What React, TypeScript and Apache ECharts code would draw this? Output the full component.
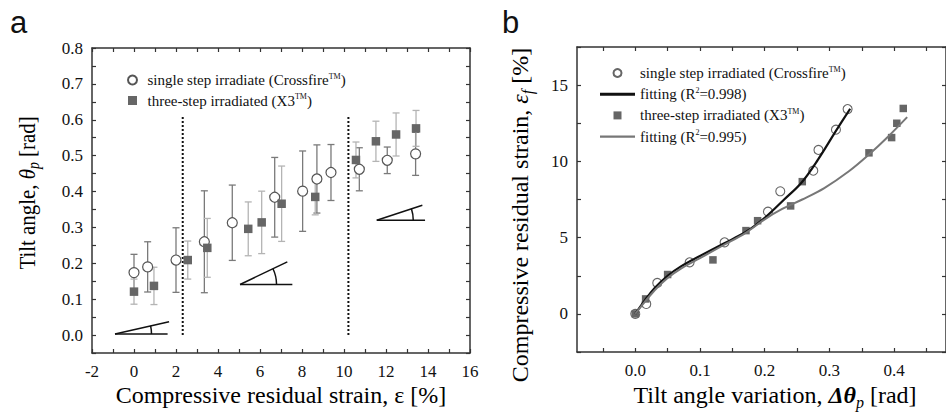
import React, { useEffect, useRef } from "react";
import * as echarts from "echarts";

// ---------- Panel a data: [x, y, error] ----------
const singleA = [
  [0.0, 0.174, 0.051], [0.65, 0.19, 0.07], [2.0, 0.209, 0.09], [3.35, 0.26, 0.142],
  [4.68, 0.313, 0.105], [6.7, 0.384, 0.111], [8.03, 0.401, 0.112], [8.71, 0.435, 0.095],
  [9.38, 0.453, 0.078], [10.73, 0.462, 0.06], [12.06, 0.487, 0.037], [13.41, 0.505, 0.06],
];
const threeA = [
  [0.0, 0.121, 0.035], [0.95, 0.137, 0.052], [2.56, 0.209, 0.053], [3.49, 0.243, 0.082],
  [5.44, 0.296, 0.075], [6.08, 0.314, 0.087], [7.03, 0.366, 0.105], [8.63, 0.385, 0.05],
  [10.57, 0.488, 0.05], [11.52, 0.54, 0.056], [12.48, 0.559, 0.06], [13.43, 0.576, 0.05],
];
// dotted dividers: [x, yFrom, yTo]
const dividers = [[2.32, 0, 0.613], [10.21, 0, 0.613]];
// angle glyphs: [vertexX, vertexY, horizontalEndX, slantEndX, slantEndY]
const wedges = [
  [-0.905, 0.003, 1.6, 1.67, 0.037],
  [5.05, 0.141, 7.54, 7.3, 0.204],
  [11.56, 0.32, 13.86, 13.73, 0.362],
];

// ---------- Panel b data ----------
const singleB = [
  [0, 0], [0.017, 0.65], [0.034, 2.03], [0.084, 3.38], [0.138, 4.69], [0.205, 6.7],
  [0.224, 8.04], [0.275, 9.39], [0.283, 10.75], [0.31, 12.08], [0.328, 13.43],
];
const threeB = [
  [0, 0], [0.016, 0.98], [0.05, 2.58], [0.12, 3.54], [0.171, 5.46], [0.189, 6.11],
  [0.24, 7.08], [0.258, 8.67], [0.361, 10.56], [0.396, 11.56], [0.404, 12.5], [0.414, 13.47],
];
const fitSingleB = [
  [0, 0], [0.015, 0.9], [0.03, 1.7], [0.05, 2.5], [0.07, 3.1], [0.1, 3.8], [0.136, 4.6],
  [0.17, 5.35], [0.2, 6.3], [0.23, 7.5], [0.257, 8.62], [0.282, 10.1], [0.31, 12.0], [0.332, 13.45],
];
const fitThreeB = [
  [0, 0], [0.015, 0.8], [0.03, 1.55], [0.05, 2.35], [0.07, 2.95], [0.1, 3.65], [0.136, 4.5],
  [0.17, 5.3], [0.2, 6.2], [0.227, 6.88], [0.258, 7.5], [0.292, 8.25], [0.33, 9.35],
  [0.361, 10.45], [0.39, 11.6], [0.42, 12.9],
];

// ---------- Ticks ----------
const aXTickVals = [-2, -1, 0, 1, 2, 3, 4, 5, 6, 7, 8, 9, 10, 11, 12, 13, 14, 15, 16];
const aXLabelVals = [-2, 0, 2, 4, 6, 8, 10, 12, 14, 16];
const aYTickVals = [-0.05, 0, 0.05, 0.1, 0.15, 0.2, 0.25, 0.3, 0.35, 0.4, 0.45, 0.5, 0.55, 0.6, 0.65, 0.7, 0.75, 0.8];
const aYLabelVals = [0, 0.1, 0.2, 0.3, 0.4, 0.5, 0.6, 0.7, 0.8];
const bXTickVals = [-0.05, 0, 0.05, 0.1, 0.15, 0.2, 0.25, 0.3, 0.35, 0.4, 0.45];
const bXLabelVals = [0, 0.1, 0.2, 0.3, 0.4];
const bYTickVals = [-2.5, 0, 2.5, 5, 7.5, 10, 12.5, 15, 17.5];
const bYLabelVals = [0, 5, 10, 15];

const SERIF = "Liberation Serif";
const SANS = "Liberation Sans";
const AXIS = "#333";
const TEXT = "#111";

const names = {
  aS: "single step irradiate (Crossfire™)",
  aT: "three-step irradiated (X3™)",
  bS: "single step irradiated (Crossfire™)",
  bF1: "fitting (R²=0.998)",
  bT: "three-step irradiated (X3™), b",
  bF2: "fitting (R²=0.995)",
};
const legendRich: Record<string, string> = {
  [names.aS]: "{t|single step irradiate (Crossfire}{sup|TM}{t|)}",
  [names.aT]: "{t|three-step irradiated (X3}{sup|TM}{t|)}",
  [names.bS]: "{t|single step irradiated (Crossfire}{sup|TM}{t|)}",
  [names.bF1]: "{t|fitting (R}{sup|2}{t|=0.998)}",
  [names.bT]: "{t|three-step irradiated (X3}{sup|TM}{t|)}",
  [names.bF2]: "{t|fitting (R}{sup|2}{t|=0.995)}",
};

const SQUARE = "path://M0,0 H10 V10 H0 Z";
const LINE_THICK = "path://M0,0 H35 V3 H0 Z";
const LINE_THIN = "path://M0,0 H35 V2.2 H0 Z";

function axis(
  gridIndex: number, position: string, min: number, max: number,
  ticks: number[], labels: number[] | null, fmt?: (v: number) => string, margin = 10
) {
  return {
    type: "value", gridIndex, position, min, max,
    splitLine: { show: false },
    axisLine: { show: true, onZero: false, lineStyle: { color: AXIS, width: 1.5 } },
    axisTick: { show: true, inside: true, length: 4, customValues: ticks, lineStyle: { color: AXIS, width: 1.2 } },
    axisLabel: labels
      ? {
          show: true, customValues: labels,
          formatter: (v: number) => "{n|" + (fmt ? fmt(v) : String(v)) + "}",
          fontFamily: SERIF, fontSize: 17, color: "#111", margin,
          rich: { n: { fontFamily: SERIF, fontSize: 17, color: "#111" } },
        }
      : { show: false },
  };
}

function errRender(color: string) {
  return (params: any, api: any) => {
    const x = api.value(0), y = api.value(1), e = api.value(2);
    const t = api.coord([x, y + e]);
    const b = api.coord([x, y - e]);
    const c = 3.5;
    const st = { stroke: color, lineWidth: 1.3 };
    return {
      type: "group",
      children: [
        { type: "line", shape: { x1: t[0], y1: t[1], x2: b[0], y2: b[1] }, style: st },
        { type: "line", shape: { x1: t[0] - c, y1: t[1], x2: t[0] + c, y2: t[1] }, style: st },
        { type: "line", shape: { x1: b[0] - c, y1: b[1], x2: b[0] + c, y2: b[1] }, style: st },
      ],
    };
  };
}

function dividerRender(params: any, api: any) {
  const x = api.value(0);
  const p1 = api.coord([x, api.value(1)]);
  const p2 = api.coord([x, api.value(2)]);
  return {
    type: "line",
    shape: { x1: p1[0], y1: p1[1], x2: p2[0], y2: p2[1] },
    style: { stroke: "#111", lineWidth: 2, lineDash: [2, 2] },
  };
}

function wedgeRender(params: any, api: any) {
  const v = api.coord([api.value(0), api.value(1)]);
  const h = api.coord([api.value(2), api.value(1)]);
  const s = api.coord([api.value(3), api.value(4)]);
  const ang = Math.atan2(s[1] - v[1], s[0] - v[0]);
  const st = { stroke: "#111", lineWidth: 1.5, fill: null };
  return {
    type: "group",
    children: [
      { type: "line", shape: { x1: v[0], y1: v[1], x2: h[0], y2: h[1] }, style: st },
      { type: "line", shape: { x1: v[0], y1: v[1], x2: s[0], y2: s[1] }, style: st },
      { type: "arc", shape: { cx: v[0], cy: v[1], r: 36.5, startAngle: ang, endAngle: 0, clockwise: true }, style: st },
    ],
  };
}

function titleRich(size: number) {
  return {
    t: { fontFamily: SERIF, fontSize: size, color: TEXT, lineHeight: size + 6 },
    i: { fontFamily: SERIF, fontSize: size, fontStyle: "italic", color: TEXT, lineHeight: size + 6 },
    bi: { fontFamily: SERIF, fontSize: size, fontStyle: "italic", fontWeight: "bold", color: TEXT, lineHeight: size + 6 },
    s: { fontFamily: SERIF, fontSize: Math.round(size * 0.68), fontStyle: "italic", color: TEXT, lineHeight: Math.round(size * 0.75), verticalAlign: "bottom" },
  };
}

export default function App() {
  const ref = useRef<HTMLDivElement>(null);
  useEffect(() => {
    if (!ref.current) return;
    const chart = echarts.init(ref.current, null, { renderer: "svg" });
    const legendText = {
      fontFamily: SERIF, fontSize: 15, color: TEXT,
      rich: {
        t: { fontFamily: SERIF, fontSize: 15, color: TEXT, lineHeight: 16 },
        sup: { fontFamily: SERIF, fontSize: 8, color: TEXT, lineHeight: 9, verticalAlign: "top" },
      },
    };
    chart.setOption({
      animation: false,
      backgroundColor: "#fff",
      textStyle: { fontFamily: SERIF },
      grid: [
        { left: 92, top: 48, width: 378, height: 305 },
        { left: 577, top: 47, width: 376, height: 305 },
      ],
      xAxis: [
        axis(0, "bottom", -2, 16, aXTickVals, aXLabelVals, (v: number) => String(v), 10),
        axis(0, "top", -2, 16, aXTickVals, null),
        axis(1, "bottom", -0.09, 0.48, bXTickVals, bXLabelVals, (v: number) => v.toFixed(1), 10),
        axis(1, "top", -0.09, 0.48, bXTickVals, null),
      ],
      yAxis: [
        axis(0, "left", -0.05, 0.8, aYTickVals, aYLabelVals, (v: number) => v.toFixed(1), 9),
        axis(0, "right", -0.05, 0.8, aYTickVals, null),
        axis(1, "left", -2.5, 17.5, bYTickVals, bYLabelVals, (v: number) => String(v), 9),
        axis(1, "right", -2.5, 17.5, bYTickVals, null),
      ],
      legend: [
        {
          left: 127, top: 72, padding: 0, orient: "vertical", itemWidth: 20, itemHeight: 9, itemGap: 5,
          data: [{ name: names.aS, icon: "circle" }, { name: names.aT, icon: SQUARE }], selectedMode: false,
          formatter: (n: string) => legendRich[n], textStyle: legendText,
        },
        {
          left: 600, top: 65, padding: 0, orient: "vertical", itemWidth: 35, itemHeight: 8, itemGap: 5.7,
          data: [
            { name: names.bS, icon: "circle" },
            { name: names.bF1, icon: LINE_THICK },
            { name: names.bT, icon: SQUARE },
            { name: names.bF2, icon: LINE_THIN },
          ],
          selectedMode: false,
          formatter: (n: string) => legendRich[n], textStyle: legendText,
        },
      ],
      graphic: [
        { type: "text", x: 10, y: 22, style: { text: "a", fontFamily: SANS, fontSize: 31, fill: TEXT, verticalAlign: "middle" } },
        { type: "text", x: 502, y: 22, style: { text: "b", fontFamily: SANS, fontSize: 31, fill: TEXT, verticalAlign: "middle" } },
        {
          type: "text", x: 281, y: 395,
          style: { text: "{t|Compressive residual strain, ε [%]}", rich: titleRich(24), align: "center", verticalAlign: "middle" },
        },
        {
          type: "text", x: 27, y: 193, rotation: Math.PI / 2, scaleX: 0.87,
          style: { text: "{t|Tilt angle, }{i|θ}{s|p}{t| [rad]}", rich: titleRich(24), align: "center", verticalAlign: "middle" },
        },
        {
          type: "text", x: 775, y: 395,
          style: { text: "{t|Tilt angle variation, }{bi|Δθ}{s|p}{t| [rad]}", rich: titleRich(24), align: "center", verticalAlign: "middle" },
        },
        {
          type: "text", x: 520, y: 215, rotation: Math.PI / 2,
          style: { text: "{t|Compressive residual strain, }{i|ε}{s|f}{t| [%]}", rich: titleRich(24), align: "center", verticalAlign: "middle" },
        },
      ],
      series: [
        { type: "custom", name: "errA-single", xAxisIndex: 0, yAxisIndex: 0, data: singleA, renderItem: errRender("#7a7a7a"), encode: { x: 0, y: 1 }, silent: true },
        { type: "custom", name: "errA-three", xAxisIndex: 0, yAxisIndex: 0, data: threeA, renderItem: errRender("#b4b4b4"), encode: { x: 0, y: 1 }, silent: true },
        { type: "custom", name: "dividers", xAxisIndex: 0, yAxisIndex: 0, data: dividers, renderItem: dividerRender, encode: { x: 0, y: [1, 2] }, silent: true },
        { type: "custom", name: "wedges", xAxisIndex: 0, yAxisIndex: 0, data: wedges, renderItem: wedgeRender, encode: { x: [0, 2, 3], y: [1, 4] }, silent: true },
        {
          type: "scatter", name: names.aS, xAxisIndex: 0, yAxisIndex: 0, symbol: "circle", symbolSize: 10,
          itemStyle: { color: "#fff", borderColor: "#555", borderWidth: 1.2, opacity: 1 },
          data: singleA.map((d) => [d[0], d[1]]), z: 3,
        },
        {
          type: "scatter", name: names.aT, xAxisIndex: 0, yAxisIndex: 0, symbol: "rect", symbolSize: 8.5,
          itemStyle: { color: "#666", opacity: 1 },
          data: threeA.map((d) => [d[0], d[1]]), z: 3,
        },
        {
          type: "scatter", name: names.bS, xAxisIndex: 2, yAxisIndex: 2, symbol: "circle", symbolSize: 9,
          itemStyle: { color: "#fff", borderColor: "#666", borderWidth: 1.1, opacity: 1 },
          data: singleB,
        },
        {
          type: "line", name: names.bF1, xAxisIndex: 2, yAxisIndex: 2, symbol: "none", smooth: 0.35,
          lineStyle: { color: "#111", width: 2.2 }, itemStyle: { color: "#111" }, data: fitSingleB,
        },
        {
          type: "scatter", name: names.bT, xAxisIndex: 2, yAxisIndex: 2, symbol: "rect", symbolSize: 7.5,
          itemStyle: { color: "#666", opacity: 1 }, data: threeB,
        },
        {
          type: "line", name: names.bF2, xAxisIndex: 2, yAxisIndex: 2, symbol: "none", smooth: 0.35,
          lineStyle: { color: "#777", width: 2 }, itemStyle: { color: "#777" }, data: fitThreeB,
        },
      ],
    });
    return () => chart.dispose();
  }, []);
  return <div ref={ref} style={{ position: "fixed", left: 0, top: 0, width: 946, height: 418, background: "#fff" }} />;
}
